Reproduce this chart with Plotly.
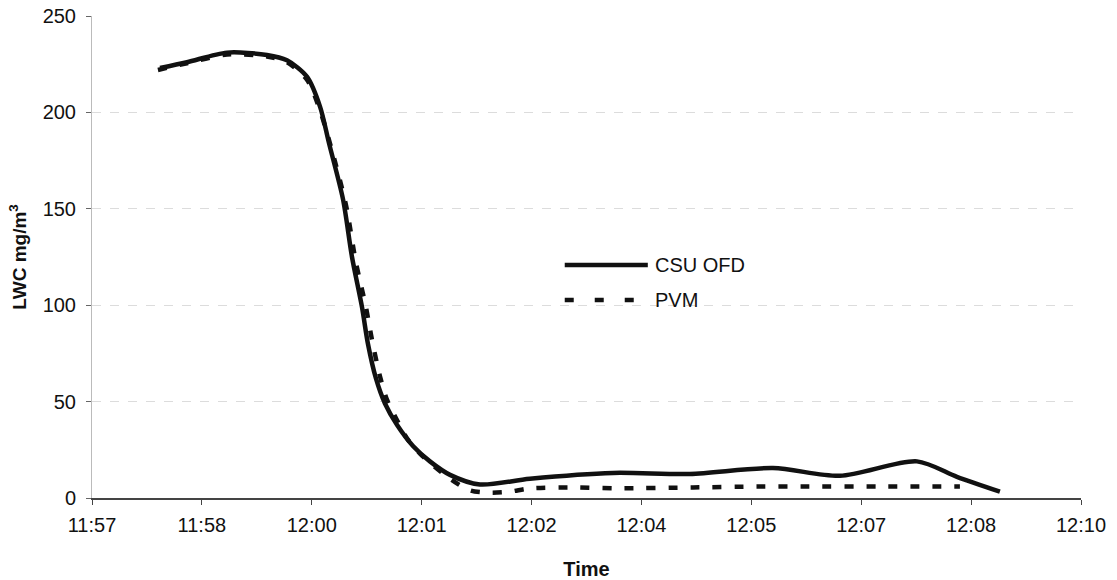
import plotly.graph_objects as go

# x positions in tick-interval units (0 = 11:57 ... 9 = 12:10)
tick_labels = ["11:57", "11:58", "12:00", "12:01", "12:02", "12:04", "12:05", "12:07", "12:08", "12:10"]

csu_x = [0.619, 0.864, 1.228, 1.592, 1.774, 1.956, 2.075, 2.157, 2.284, 2.366, 2.457, 2.511,
         2.584, 2.666, 2.775, 2.921, 3.075, 3.258, 3.530, 3.985, 4.741, 5.441, 6.197, 6.806,
         7.507, 7.871, 8.262]
csu_y = [223, 226, 231, 229.8, 227, 218.5, 203, 184, 155, 125, 99, 80,
         62, 49, 38, 27, 19, 12, 7, 10, 13, 12.5, 15.5, 11.5,
         19, 11, 3.3]

pvm_x = [0.60, 0.864, 1.228, 1.592, 1.774, 1.956, 2.075, 2.175, 2.311, 2.402, 2.493, 2.548,
         2.621, 2.684, 2.775, 2.866, 2.985, 3.258, 3.44, 3.62, 3.80, 3.985, 4.377, 4.777,
         5.469, 6.051, 6.470, 7.170, 7.898]
pvm_y = [222, 225.5, 230, 229, 226, 217, 201, 182, 152, 122, 99, 82,
         63, 51, 40.5, 31, 23, 10, 4, 2.8, 3.3, 5, 5.5, 5,
         5.5, 5.9, 6, 6, 6]

series_names = ["CSU OFD", "PVM"]

FONT = "Arial, Liberation Sans, sans-serif"

fig = go.Figure()
fig.add_trace(go.Scatter(x=csu_x, y=csu_y, mode="lines", name=series_names[0],
                         line=dict(color="#111111", width=4.5, shape="spline", smoothing=0.8)))
fig.add_trace(go.Scatter(x=pvm_x, y=pvm_y, mode="lines", name=series_names[1],
                         line=dict(color="#111111", width=4.5, dash="9px,13px", shape="spline", smoothing=0.8)))

# legend drawn manually (long sample lines as in original)
fig.add_shape(type="line", xref="paper", yref="paper", x0=0.478, x1=0.562, y0=0.4834, y1=0.4834,
              line=dict(color="#111111", width=4.5))
fig.add_shape(type="line", xref="paper", yref="paper", x0=0.478, x1=0.562, y0=0.4108, y1=0.4108,
              line=dict(color="#111111", width=4.5, dash="9px,21px"))
fig.add_annotation(xref="paper", yref="paper", x=0.567, y=0.4834, text=series_names[0],
                   showarrow=False, xanchor="left", yanchor="middle",
                   font=dict(family=FONT, size=20, color="#111111"))
fig.add_annotation(xref="paper", yref="paper", x=0.567, y=0.4108, text=series_names[1],
                   showarrow=False, xanchor="left", yanchor="middle",
                   font=dict(family=FONT, size=20, color="#111111"))

fig.update_layout(
    width=1117, height=580,
    margin=dict(l=92, r=36, t=16, b=82, autoexpand=False),
    paper_bgcolor="white", plot_bgcolor="white",
    showlegend=False,
    font=dict(family=FONT, size=20, color="#111111"),
    xaxis=dict(
        range=[0, 9], tickvals=list(range(len(tick_labels))), ticktext=tick_labels,
        automargin=False,
        showgrid=False, zeroline=False,
        showline=True, linecolor="#444444", linewidth=1.5,
        ticks="outside", ticklen=5, tickcolor="#444444",
        ticklabelstandoff=3,
        tickfont=dict(family=FONT, size=20, color="#111111"),
        title=dict(text="<b>Time</b>", font=dict(family=FONT, size=20, color="#111111"), standoff=28),
    ),
    yaxis=dict(
        range=[0, 250], tickvals=[0, 50, 100, 150, 200, 250],
        automargin=False,
        showgrid=True, gridcolor="#dcdcdc", griddash="dash", gridwidth=1,
        zeroline=False,
        showline=True, linecolor="#bbbbbb", linewidth=1,
        ticks="outside", ticklen=5, tickcolor="#666666",
        ticklabelstandoff=6,
        tickfont=dict(family=FONT, size=20, color="#111111"),
        title=dict(text="<b>LWC mg/m<sup>3</sup></b>", font=dict(family=FONT, size=19, color="#111111"), standoff=10),
    ),
)

fig.write_html("out.html", config={"displayModeBar": False},
               post_script="document.body.style.margin='0';document.body.style.overflow='hidden';")
